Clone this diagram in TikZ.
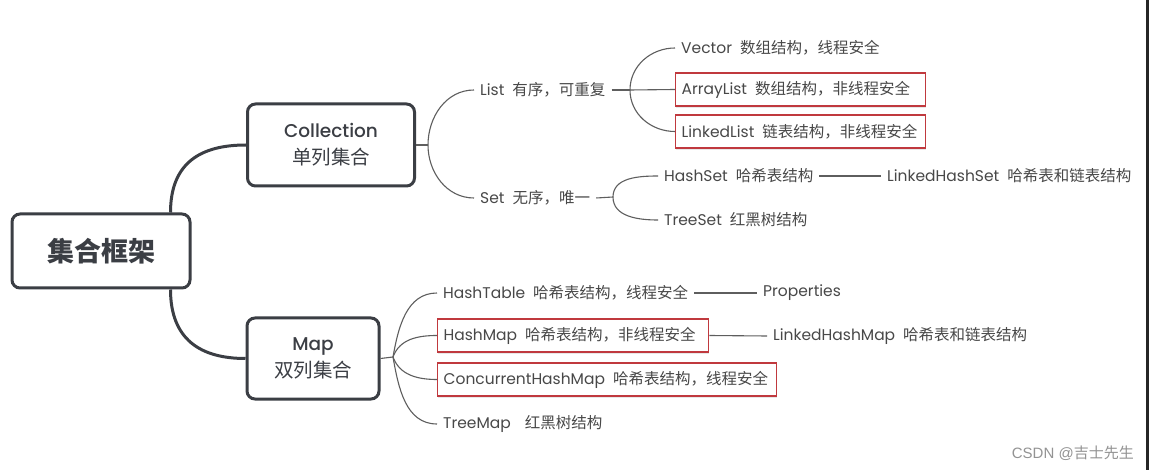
\documentclass[tikz,border=0pt]{standalone}
\usepackage{fontspec}
\setmainfont{Poppins}
\newfontfamily\popmed{Poppins Medium}
\newfontfamily\cjk{Noto Sans CJK SC}
\newfontfamily\lib{Liberation Sans}
\usetikzlibrary{shadows}
\definecolor{dk}{HTML}{3B3E44}
\definecolor{txt}{HTML}{484848}
\definecolor{br}{HTML}{5E5E5E}
\definecolor{redc}{HTML}{C0393E}
\newcommand{\zh}[1]{{\cjk #1}}
\newcommand{\gapp}{\hspace{8pt}}
\tikzset{
  mainbox/.style={draw=dk, line width=3pt, rounded corners=8pt, fill=white, text=dk, align=center},
  thickconn/.style={draw=dk, line width=3pt},
  branch/.style={draw=br, line width=1.1pt},
  leaf/.style={anchor=west, inner xsep=6pt, inner ysep=2pt, text=txt, font=\fontsize{15.5}{18}\selectfont},
  redbox/.style={leaf, draw=redc, line width=1.3pt, fill=white, minimum height=33pt, align=left,
     drop shadow={shadow xshift=0.6pt, shadow yshift=-2pt, opacity=0.18, fill=gray}}
}
\begin{document}
\begin{tikzpicture}
\useasboundingbox (0,0) rectangle (1149pt,-470pt);
\begin{scope}[x=1pt,y=1pt]
\fill[white] (0,0) rectangle (1149,-470);
\fill[black!85] (1146,0) rectangle (1149,-470);

% main boxes
\node[mainbox, minimum width=178pt, minimum height=74pt, font=\cjk\bfseries\fontsize{27}{30}\selectfont] (root) at (101,-251) {集合框架};
\node[mainbox, minimum width=167pt, minimum height=82pt, font=\fontsize{18.5}{27}\selectfont] (coll) at (331,-145)
  {{\popmed Collection}\\{\cjk\fontsize{19.5}{27}\selectfont 单列集合}};
\node[mainbox, minimum width=132pt, minimum height=81pt, font=\fontsize{18.5}{27}\selectfont] (map) at (313,-358.5)
  {{\popmed Map}\\{\cjk\fontsize{19.5}{27}\selectfont 双列集合}};

\draw[thickconn] ([xshift=-21pt]root.north east) .. controls +(0,50) and +(-45,0) .. (coll.west);
\draw[thickconn] ([xshift=-21pt]root.south east) .. controls +(0,-50) and +(-45,0) .. (map.west);

% Collection side
\node[leaf] (list) at (474,-90) {List\gapp\zh{有序，可重复}};
\node[leaf] (set) at (474,-198) {Set\gapp\zh{无序，唯一}};
\coordinate (cf) at (428,-145);
\draw[branch] (coll.east) -- (cf);
\draw[branch] (cf) to[out=90,in=180] (list.west);
\draw[branch] (cf) to[out=-90,in=180] (set.west);

\node[leaf] (vector) at (675,-48) {Vector\gapp\zh{数组结构，线程安全}};
\node[redbox, text width=238pt] (arraylist) at (675,-89.5) {ArrayList\gapp\zh{数组结构，非线程安全}};
\node[redbox, text width=238pt] (linkedlist) at (675,-131.5) {LinkedList\gapp\zh{链表结构，非线程安全}};
\coordinate (lf) at (630,-90);
\draw[branch] (list.east) -- (lf);
\draw[branch] (lf) to[out=90,in=180] (vector.west);
\draw[branch] (lf) -- (arraylist.west);
\draw[branch] (lf) to[out=-90,in=180] (linkedlist.west);

\node[leaf] (hashset) at (658,-176) {HashSet\gapp\zh{哈希表结构}};
\node[leaf] (lhs) at (881,-176) {LinkedHashSet\gapp\zh{哈希表和链表结构}};
\node[leaf] (treeset) at (658,-220) {TreeSet\gapp\zh{红黑树结构}};
\coordinate (sf) at (613,-197);
\draw[branch] (set.east) -- (sf);
\draw[branch] (sf) to[out=90,in=180] (hashset.west);
\draw[branch] (sf) to[out=-90,in=180] (treeset.west);
\draw[branch] (hashset.east) -- (lhs.west);

% Map side
\node[leaf] (hashtable) at (437,-293) {HashTable\gapp\zh{哈希表结构，线程安全}};
\node[leaf] (props) at (757,-293) {Properties};
\node[redbox, text width=259pt] (hashmap) at (437,-335.5) {HashMap\gapp\zh{哈希表结构，非线程安全}};
\node[leaf] (lhm) at (767,-336) {LinkedHashMap\gapp\zh{哈希表和链表结构}};
\node[redbox, text width=327pt] (chm) at (437,-379.5) {ConcurrentHashMap\gapp\zh{哈希表结构，线程安全}};
\node[leaf] (treemap) at (437,-424) {TreeMap\hspace{14pt}\zh{红黑树结构}};
\coordinate (mf) at (393,-357);
\draw[branch] (map.east) -- (mf);
\draw[branch] (mf) to[out=80,in=180] (hashtable.west);
\draw[branch] (mf) to[out=70,in=180] (hashmap.west);
\draw[branch] (mf) to[out=-70,in=180] (chm.west);
\draw[branch] (mf) to[out=-80,in=180] (treemap.west);
\draw[branch] (hashtable.east) -- (props.west);
\draw[branch] (hashmap.east) -- (lhm.west);

\node[anchor=east, text=gray!85, inner sep=0pt, font=\lib\fontsize{15}{18}\selectfont] (wm) at (1134,-453) {CSDN @\zh{吉士先生}};
\end{scope}
\end{tikzpicture}
\end{document}
